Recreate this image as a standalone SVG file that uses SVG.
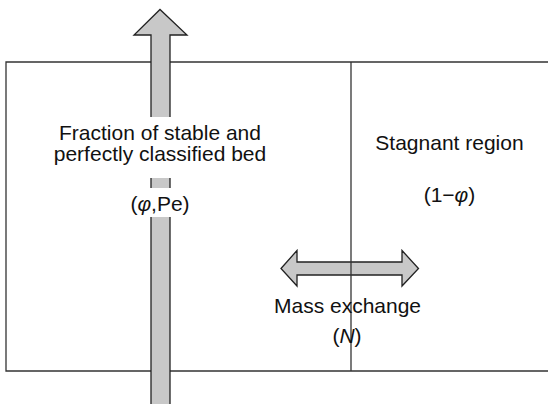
<svg xmlns="http://www.w3.org/2000/svg" width="548" height="404" viewBox="0 0 548 404">
<style>
.ln{fill:none;stroke:#333;stroke-width:1.3}
.ar{fill:#c8c8c8;stroke:#222;stroke-width:1.3;stroke-linejoin:miter}
.t{font-family:"Liberation Sans",Arial,sans-serif;font-size:21px;fill:#111;text-anchor:middle}
</style>
<rect width="548" height="404" fill="#fff"/>
<g id="box"><path class="ln" d="M560,62 H6 V371 H560"/></g>
<g id="connectors">
<path id="flow-arrow" class="ar" d="M151,410 V35 H134 L160,9.5 L187,35 H170 V410 Z"/>
<path id="exchange-arrow" class="ar" d="M281,268.5 L297,250.5 V262 H402 V250.5 L418.5,268.5 L402,286 V275 H297 V286 Z"/>
</g>
<g id="divider"><line class="ln" x1="351" y1="62" x2="351" y2="371"/></g>
<g id="bed">
<rect x="52" y="117" width="216" height="61" fill="#fff"/>
<rect x="126" y="188" width="68" height="29" fill="#fff"/>
<text class="t" x="160" y="139.5">Fraction of stable and</text>
<text class="t" x="160" y="161">perfectly classified bed</text>
<text class="t" x="160" y="210.5">(<tspan font-style="italic">φ</tspan>,Pe)</text>
</g>
<g id="stagnant">
<text class="t" x="449.5" y="149.5">Stagnant region</text>
<text class="t" x="449.5" y="201.5">(1−<tspan font-style="italic">φ</tspan>)</text>
</g>
<g id="exchange">
<text class="t" x="347.5" y="312.5">Mass exchange</text>
<text class="t" x="347" y="342.5">(<tspan font-style="italic">N</tspan>)</text>
</g>
</svg>
